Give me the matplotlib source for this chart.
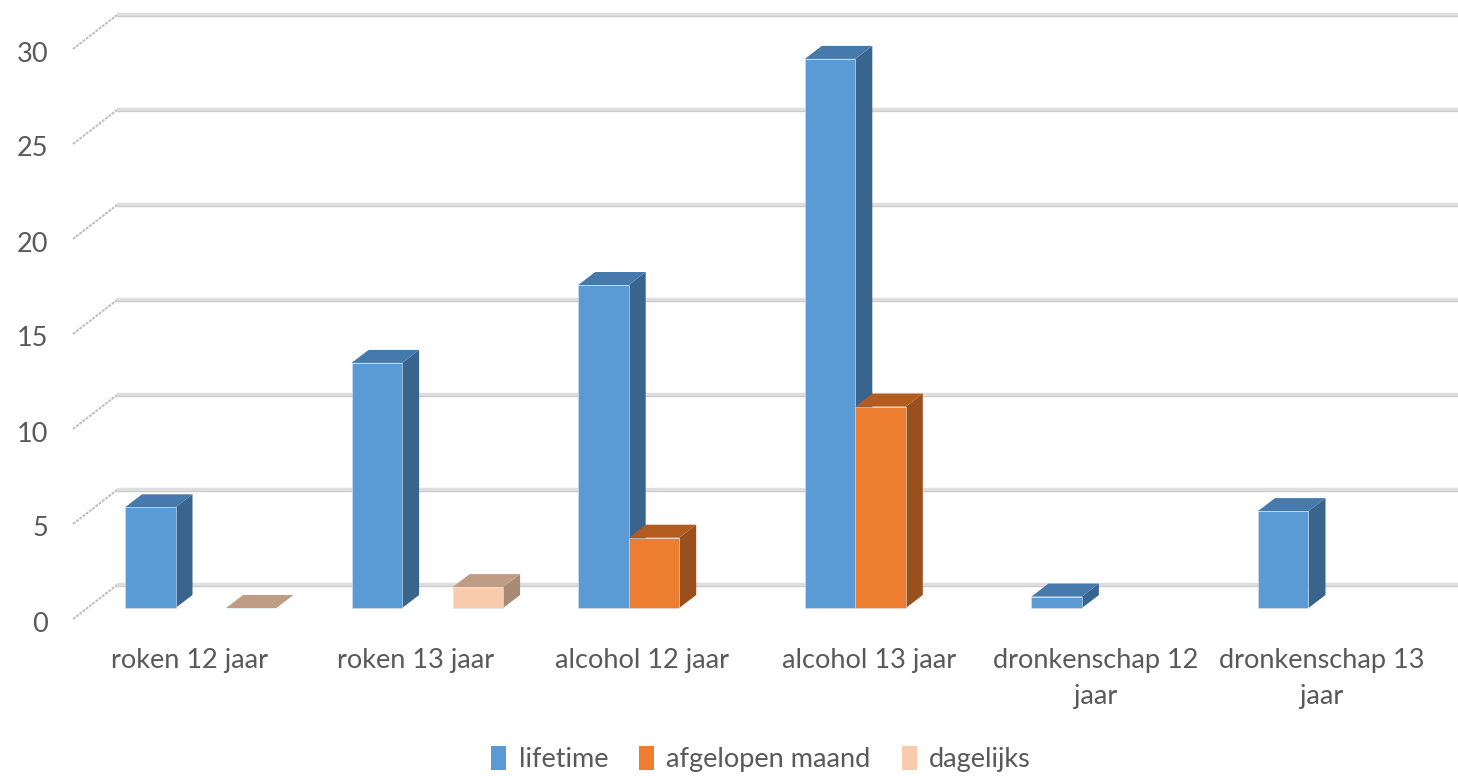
import numpy as np
import matplotlib.pyplot as plt
from matplotlib.patches import Polygon, Patch

# survey results per category (percent)
categories = ["roken 12 jaar", "roken 13 jaar", "alcohol 12 jaar", "alcohol 13 jaar",
              "dronkenschap 12\njaar", "dronkenschap 13\njaar"]
series_names = ["lifetime", "afgelopen maand", "dagelijks"]
lifetime = [5.3, 12.9, 17.0, 28.9, 0.6, 5.1]
afgelopen_maand = [np.nan, np.nan, 3.7, 10.6, np.nan, np.nan]
dagelijks = [0, 1.1, np.nan, np.nan, np.nan, np.nan]
y_ticks = [0, 5, 10, 15, 20, 25, 30]

# front / top / side colour of each series
face_colors = [("#5B9BD5", "#467AAD", "#38648E"),
               ("#ED7D31", "#B45C20", "#99501D"),
               ("#F8CBAD", "#C09C84", "#A88B77")]
text_color = "#595959"

plt.rcParams['font.family'] = ['Lato', 'DejaVu Sans']

W, H = 1458, 776
PX_X = 226.6   # pixels per category step
PX_Y = 19.0    # pixels per unit on the value axis
X0, Y0 = 200.75, 608.0   # pixel position of first group centre / bar base

def dx(px):
    return px / PX_X

def dy(px):
    return px / PX_Y

fig = plt.figure(figsize=(W / 100, H / 100), dpi=100)
ax = fig.add_axes([0, 0, 1, 1])
ax.set_xlim(-X0 / PX_X, (W - X0) / PX_X)
ax.set_ylim(-(H - Y0) / PX_Y, Y0 / PX_Y)
ax.axis("off")

# back wall gridlines and the slanted side wall lines
back_dy = dy(23)
front_dy = -dy(11)
for v in y_ticks:
    ax.plot([dx(117 - X0), ax.get_xlim()[1]], [v + back_dy, v + back_dy],
            color="#dedede", lw=3.2, solid_capstyle="butt", zorder=1)
    ax.plot([dx(117 - X0), ax.get_xlim()[1]], [v + back_dy - dy(1.2), v + back_dy - dy(1.2)],
            color="#cccccc", lw=0.8, solid_capstyle="butt", zorder=1)
    ax.plot([dx(73 - X0), dx(117 - X0)], [v + front_dy, v + back_dy],
            color="#bdbdbd", lw=1.4, ls=(0, (1.5, 0.6)), zorder=1)
    ax.text(dx(48 - X0), v + front_dy - dy(5), str(v), ha="right", va="center",
            fontsize=19.5, color=text_color)

# 3d columns
bw = 50.5 / PX_X
depth_x, depth_y = dx(17), dy(13)
x = np.arange(len(categories))
all_series = [lifetime, afgelopen_maand, dagelijks]
z = 2
for i in x:
    for s, vals in enumerate(all_series):
        v = vals[i]
        if np.isnan(v):
            continue
        front, top, side = face_colors[s]
        left = i + (s - 1.5) * bw
        right = left + bw
        side_poly = Polygon([(right, 0), (right + depth_x, depth_y),
                             (right + depth_x, v + depth_y), (right, v)],
                            closed=True, facecolor=side, edgecolor="none", zorder=z)
        top_poly = Polygon([(left, v), (right, v), (right + depth_x, v + depth_y),
                            (left + depth_x, v + depth_y)],
                           closed=True, facecolor=top, edgecolor="none", zorder=z)
        ax.add_patch(side_poly)
        ax.add_patch(top_poly)
        ax.bar(left, v, width=bw, align="edge", color=front,
               edgecolor="#d8e4f0", linewidth=0.4, zorder=z + 0.5)
        z += 1

# category labels
for i, cat in enumerate(categories):
    ax.text(i + dx(189 - X0), -dy(648 - Y0), cat, ha="center", va="top",
            fontsize=19.5, color=text_color, linespacing=1.55)

handles = [Patch(facecolor=c[0], edgecolor="none") for c in face_colors]
fig.legend(handles, series_names, loc="center", bbox_to_anchor=(761 / W, 1 - 759 / H),
           ncol=3, frameon=False, fontsize=19.5, labelcolor=text_color,
           handlelength=0.55, handleheight=1.0, handletextpad=0.45, columnspacing=1.15)

fig.savefig("out.png", dpi=100)
